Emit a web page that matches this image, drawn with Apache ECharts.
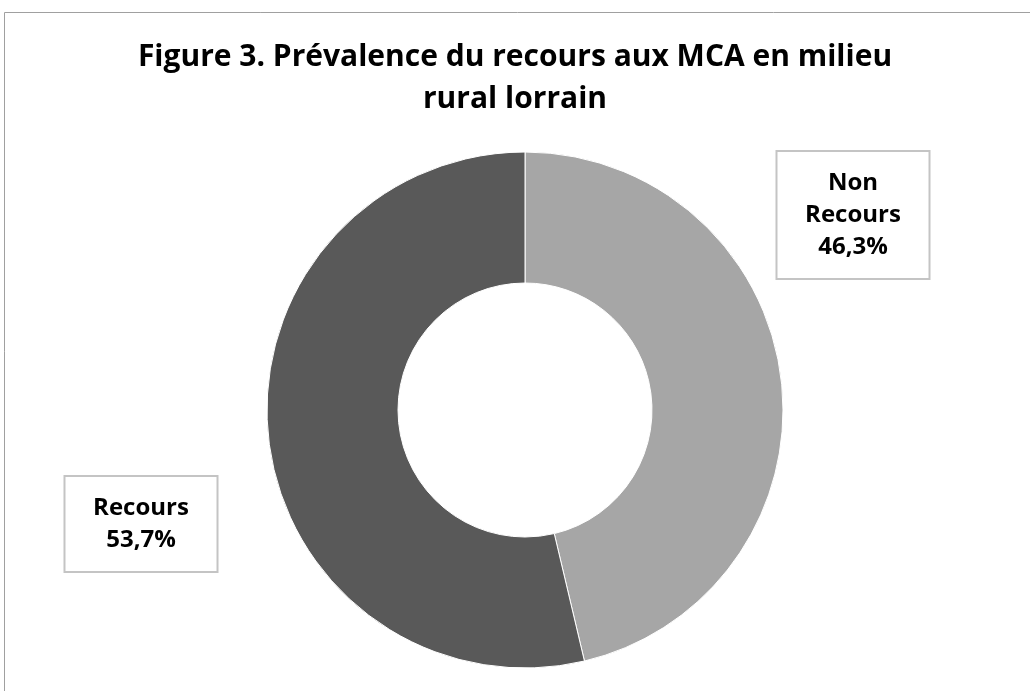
<!DOCTYPE html>
<html lang="fr">
<head>
    <meta charset="UTF-8">
    <title>Figure 3</title>
    <script src="https://cdn.jsdelivr.net/npm/echarts@6/dist/echarts.min.js"></script>
</head>
<style>
    body { margin: 0; padding: 0; background: #fff; }
    #main { width: 1030px; height: 691px; }
</style>
<body>
<div id="main"></div>
<script>
    // données
    var categories = ['Non Recours', 'Recours'];
    var values = [46.3, 53.7];
    var colors = ['#a6a6a6', '#595959'];

    // où poser les étiquettes (centre de chaque encadré)
    var labelSpots = [[853, 215], [141, 524]];

    var chartData = categories.map(function (name, i) {
        return { name: name, value: values[i], itemStyle: { color: colors[i] } };
    });

    var myChart = echarts.init(document.getElementById('main'));

    var option = {
        animation: false,
        title: {
            text: 'Figure 3. Prévalence du recours aux MCA en milieu\nrural lorrain',
            left: 'center',
            top: 31,
            textStyle: {
                fontFamily: 'Open Sans',
                fontSize: 30,
                fontWeight: 'bold',
                lineHeight: 42,
                color: '#000'
            }
        },
        graphic: [
            { type: 'line', shape: { x1: 4.5, y1: 12.5, x2: 1030, y2: 12.5 }, style: { stroke: '#a0a0a0', lineWidth: 1 } },
            { type: 'line', shape: { x1: 4.5, y1: 12.5, x2: 4.5, y2: 691 }, style: { stroke: '#a0a0a0', lineWidth: 1 } }
        ],
        series: [{
            type: 'pie',
            center: [525, 410],
            radius: [127, 258],
            startAngle: 90,
            clockwise: true,
            itemStyle: { borderColor: '#fff', borderWidth: 1 },
            labelLine: { show: false },
            label: {
                show: true,
                position: 'outside',
                formatter: function (p) {
                    return p.name.replace(' ', '\n') + '\n' + p.value.toFixed(1).replace('.', ',') + '%';
                },
                fontFamily: 'Open Sans',
                fontSize: 24,
                fontWeight: 'bold',
                lineHeight: 32,
                color: '#000',
                align: 'center',
                width: 151,
                backgroundColor: '#fff',
                borderColor: '#c4c4c4',
                borderWidth: 2,
                padding: [15, 0, 15, 0]
            },
            labelLayout: function (params) {
                var spot = labelSpots[params.dataIndex];
                return { x: spot[0], y: spot[1], align: 'center', verticalAlign: 'middle' };
            },
            data: chartData
        }]
    };

    myChart.setOption(option);
</script>
</body>
</html>
